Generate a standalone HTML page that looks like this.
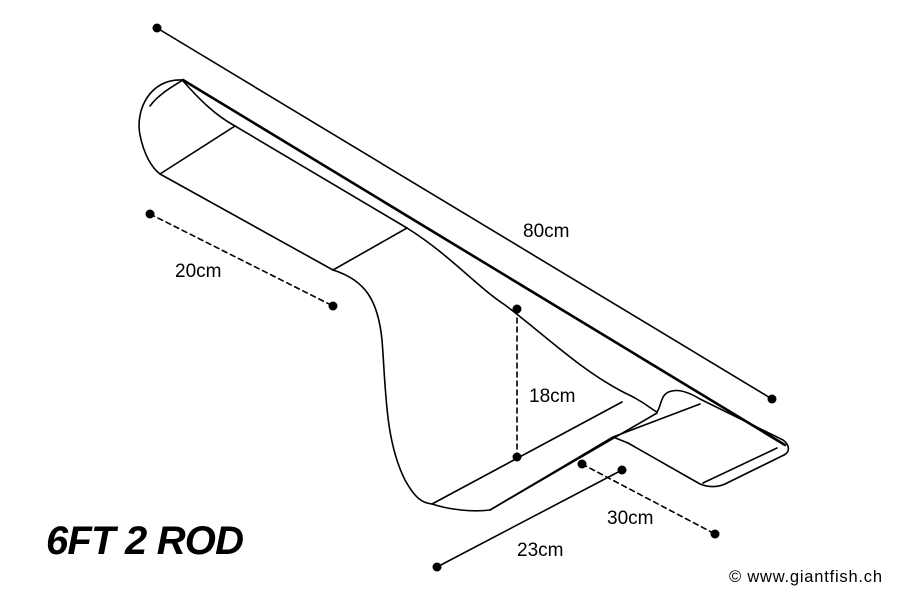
<!DOCTYPE html>
<html><head><style>body{margin:0;background:#fff}svg{display:block}</style></head><body>
<svg width="900" height="600" viewBox="0 0 900 600" xmlns="http://www.w3.org/2000/svg" font-family="Liberation Sans, sans-serif">
<g fill="none" stroke="#000" stroke-width="1.6" stroke-linejoin="round" stroke-linecap="round">
<path d="M183,80 L785,445" stroke-width="2.6"/>
<path d="M183,80 C150,78 135,110 140,135 C144,155 152,168 160,174"/>
<path d="M183,80 C170,88 158,95 150,106"/>
<path d="M160,174 L333,270"/>
<path d="M160,174 L235,126"/>
<path d="M333,270 L407,228"/>
<path d="M183,81 C200,100 215,115 235,126 L407,228 C450,255 475,285 505,305 C545,335 580,370 625,393 C645,402 652,410 657,412"/>
<path d="M657,412 C662,405 660,393 672,391 C680,389 690,393 700,399 L783,440 C790,445 790,452 784,455"/>
<path d="M333,270 C365,280 378,300 382,340 C386,390 385,440 405,480 C415,498 422,503 432,504"/>
<path d="M432,504 C450,510 472,512 490,510 L613,437"/>
<path d="M432,504 L622,402"/>
<path d="M490,510 L657,413"/>
<path d="M613,437 L628,443"/>
<path d="M613,437 L700,404"/>
<path d="M628,443 L700,484 C710,488 718,487 725,484 L784,455"/>
<path d="M703,483 L777,448"/>
<path d="M157,28 L772,399"/>
<path d="M437,567 L622,470"/>
<path d="M150,214 L333,306" stroke-dasharray="5,4"/>
<path d="M517,309 L517,457" stroke-dasharray="5,4"/>
<path d="M582,464 L715,534" stroke-dasharray="5,4"/>
</g>
<g fill="#000">
<circle cx="157" cy="28" r="4.5"/><circle cx="772" cy="399" r="4.5"/>
<circle cx="150" cy="214" r="4.5"/><circle cx="333" cy="306" r="4.5"/>
<circle cx="517" cy="309" r="4.5"/><circle cx="517" cy="457" r="4.5"/>
<circle cx="437" cy="567" r="4.5"/><circle cx="622" cy="470" r="4.5"/>
<circle cx="582" cy="464" r="4.5"/><circle cx="715" cy="534" r="4.5"/>
</g>
<g font-size="19" fill="#000">
<text x="523" y="237">80cm</text>
<text x="175" y="277">20cm</text>
<text x="529" y="402">18cm</text>
<text x="607" y="524">30cm</text>
<text x="517" y="556">23cm</text>
</g>
<text x="46" y="554" font-size="40" font-weight="bold" font-style="italic" fill="#000" textLength="198">6FT 2 ROD</text>
<text x="729" y="582" font-size="16.5" fill="#000" textLength="153">© www.giantfish.ch</text>
</svg>
</body></html>
